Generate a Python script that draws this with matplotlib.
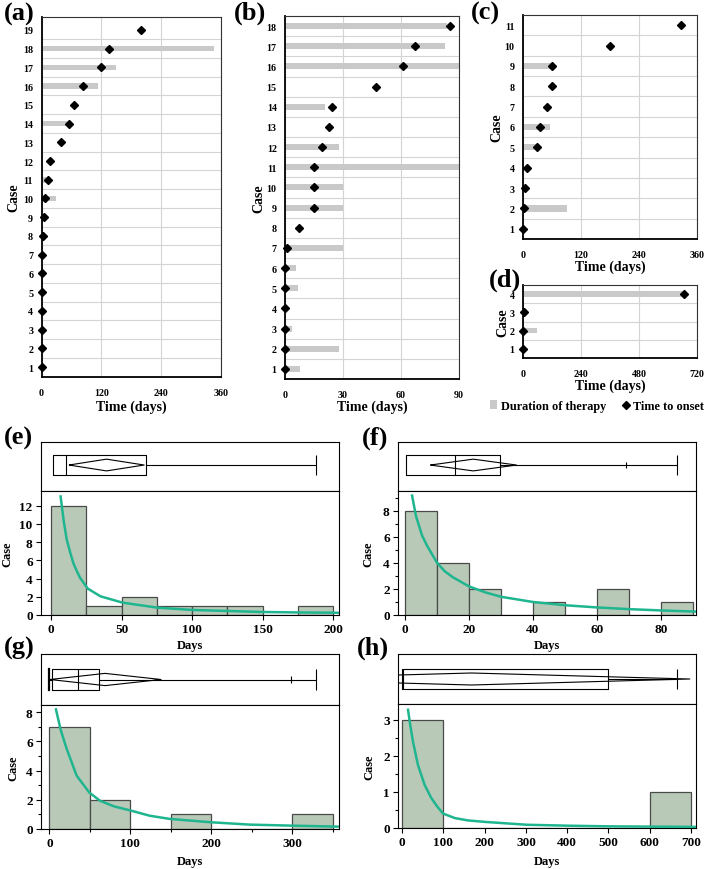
import matplotlib
matplotlib.use('Agg')
import matplotlib.pyplot as plt
import numpy as np
from matplotlib.lines import Line2D
from matplotlib.patches import Patch

plt.rcParams['font.family'] = ['Liberation Serif', 'DejaVu Serif']
plt.rcParams['font.weight'] = 'bold'

# ---------------- data ----------------
a_onset = [0, 0, 0, 0, 0, 1, 0, 4, 5, 8, 13, 17, 39.5, 56, 66, 83, 120, 135, 199]
a_dur = [0, 0, 0, 0, 0, 5, 0, 0, 0, 29, 10, 0, 0, 54, 0, 113, 149, 345, 0]
b_onset = [0, 0, 0, 0, 0, 0, 1.2, 7.2, 15.2, 15.2, 15.2, 19.3, 23, 24.3, 47, 61, 67.2, 85.2]
b_dur = [7.8, 28, 3.6, 0, 6.7, 5.7, 30, 0, 30, 30, 90, 28, 0, 20.7, 0, 90, 82.8, 84]
c_onset = [0, 1.4, 4, 9, 29, 35.2, 49.7, 60.7, 60.7, 181, 326]
c_dur = [0, 91, 0, 0, 29, 56, 0, 0, 58, 0, 0]
d_onset = [0, 0, 3, 666]
d_dur = [0, 59, 0, 662]

a_xticks = [0, 120, 240, 360]
b_xticks = [0, 30, 60, 90]
c_xticks = [0, 120, 240, 360]
d_xticks = [0, 240, 480, 720]

# box-plot summaries (days)
e_box = dict(q1=1.2, med=10.6, q3=67, wlo=None, whi=188, mean=39.3, ci_lo=12.7, ci_hi=66, mark=None)
f_box = dict(q1=0.4, med=15.6, q3=29.9, wlo=None, whi=85.1, mean=21.4, ci_lo=8.0, ci_hi=34.9, mark=69)
g_box = dict(q1=3.7, med=35.4, q3=61, wlo=0, whi=329, mean=68.8, ci_lo=0.8, ci_hi=138, mark=299)
h_box = dict(q1=0, med=3, q3=500, wlo=None, whi=667, mean=168, ci_lo=-361, ci_hi=697, mark=None)

# fitted curves
e_curve_x = [6.8, 9, 11.1, 13.5, 15.8, 18, 20.5, 26, 35, 50.8, 75.6, 100.8, 125.6, 150, 175, 200, 204]
e_curve_y = [13.0, 10.3, 8.3, 6.9, 5.7, 4.9, 4.1, 2.9, 2.05, 1.35, 0.8, 0.55, 0.44, 0.33, 0.28, 0.25, 0.24]
f_curve_x = [2.3, 3.5, 5.4, 7.0, 10.1, 12.5, 15, 20, 25, 30, 40, 50, 60, 70, 80, 91]
f_curve_y = [9.15, 7.6, 6.1, 5.3, 4.0, 3.35, 2.9, 2.2, 1.75, 1.4, 1.0, 0.75, 0.58, 0.45, 0.35, 0.26]
g_curve_x = [8.2, 14, 21.4, 33.7, 49.4, 62.5, 80, 99.6, 124, 149, 200, 248, 300, 358]
g_curve_y = [8.2, 6.8, 5.5, 3.66, 2.5, 1.94, 1.55, 1.28, 0.91, 0.69, 0.46, 0.3, 0.23, 0.16]
h_curve_x = [14.6, 20, 26.7, 38.8, 55, 71, 85, 99.5, 128, 160, 200, 302, 403, 500, 712]
h_curve_y = [3.28, 2.85, 2.39, 1.74, 1.19, 0.83, 0.6, 0.40, 0.275, 0.21, 0.17, 0.09, 0.064, 0.046, 0.03]

# ---------------- figure ----------------
W, H = 708, 870
fig = plt.figure(figsize=(W / 100, H / 100), dpi=100)


def px_axes(l, t, r, b):
    return fig.add_axes([l / W, 1 - b / H, (r - l) / W, (b - t) / H])


BAR_GRAY = '#c9c9c9'
GRID = '#d4d4d4'


def gantt(box, onset, dur, xticks, xlab_px, ylab_px, ylim_pad=(0.5, 0.5)):
    l, t, r, b = box
    ax = px_axes(l, t, r, b)
    n = len(onset)
    y = np.arange(1, n + 1)
    ax.barh(y, dur, height=0.3, color=BAR_GRAY, zorder=2)
    ax.plot(onset, y, 'D', color='black', markersize=3.9, zorder=4, clip_on=False)
    ax.set_xlim(xticks[0], xticks[-1])
    ax.set_ylim(1 - ylim_pad[0], n + ylim_pad[1])
    ax.set_xticks(xticks)
    ax.set_yticks(y)
    ax.set_yticks(np.arange(1.5, n, 1), minor=True)
    ax.grid(True, axis='x', color=GRID, lw=0.8, zorder=0)
    ax.grid(True, axis='y', which='minor', color=GRID, lw=0.8, zorder=0)
    ax.tick_params(axis='both', which='both', length=0, labelsize=7.2)
    ax.tick_params(axis='x', pad=8)
    ax.tick_params(axis='y', pad=6)
    for s in ['top', 'right']:
        ax.spines[s].set_color('#333333')
        ax.spines[s].set_linewidth(0.8)
    for s in ['left', 'bottom']:
        ax.spines[s].set_color('black')
        ax.spines[s].set_linewidth(1.3)
    ax.set_xlabel('Time (days)', fontsize=10, fontweight='bold')
    ax.set_ylabel('Case', fontsize=10, fontweight='bold')
    ax.xaxis.set_label_coords(0.5, -(xlab_px - 7 - b) / (b - t))
    ax.yaxis.set_label_coords(-(l - ylab_px - 7) / (r - l), 0.5)
    return ax


gantt((41.5, 18, 221, 378), a_onset, a_dur, a_xticks, 408, 13, (0.53, 0.69))
gantt((285, 17, 459, 380), b_onset, b_dur, b_xticks, 408, 258)
gantt((523, 16, 697, 240), c_onset, c_dur, c_xticks, 268, 496)
gantt((523, 286, 697, 359), d_onset, d_dur, d_xticks, 387, 502)

handles = [Patch(facecolor=BAR_GRAY, edgecolor='none'),
           Line2D([], [], marker='D', color='black', linestyle='none', markersize=3.9)]
fig.legend(handles, ['Duration of therapy', 'Time to onset'], loc='center',
           bbox_to_anchor=(597 / W, 1 - 407 / H), ncol=2, frameon=False,
           handlelength=0.6, handletextpad=0.3, columnspacing=1.3,
           prop={'weight': 'bold', 'size': 8.8})

HIST_FACE = '#b8c9b8'
HIST_EDGE = '#4a4a4a'
CURVE = '#1fb58f'


def draw_box(ax, st, yc, bh, dh):
    kw = dict(color='black', lw=0.8, solid_capstyle='butt')
    q1, med, q3 = st['q1'], st['med'], st['q3']
    ax.plot([q1, q3, q3, q1, q1], [yc - bh, yc - bh, yc + bh, yc + bh, yc - bh], **kw)
    ax.plot([med, med], [yc - bh, yc + bh], **kw)
    ax.plot([q3, st['whi']], [yc, yc], **kw)
    ax.plot([st['whi'], st['whi']], [yc - bh, yc + bh], **kw)
    if st['wlo'] is not None:
        ax.plot([st['wlo'], q1], [yc, yc], **kw)
        ax.plot([st['wlo'], st['wlo']], [yc - bh, yc + bh], color='black', lw=1.6)
    ax.plot([st['ci_lo'], st['mean'], st['ci_hi'], st['mean'], st['ci_lo']],
            [yc, yc + dh, yc, yc - dh, yc], **kw)
    if st['mark'] is not None:
        ax.plot([st['mark'], st['mark']], [yc - 0.06, yc + 0.06], **kw)


def hist_panel(box_px, div_px, onset, bins, xlim, ylim, xticks, yticks, yminor, xminor,
               st, yc, cx, cy, xlab_px, ylab_px):
    l, t, r, b = box_px
    axb = px_axes(l, t, r, div_px)
    axh = px_axes(l, div_px, r, b)
    axb.set_xlim(*xlim)
    axb.set_ylim(0, 1)
    axb.set_xticks([])
    axb.set_yticks([])
    draw_box(axb, st, yc, 0.2, 0.12)
    axh.hist(onset, bins=bins, color=HIST_FACE, edgecolor=HIST_EDGE, linewidth=0.9, zorder=2)
    axh.plot(cx, cy, color=CURVE, lw=1.8, zorder=3)
    axh.set_xlim(*xlim)
    axh.set_ylim(*ylim)
    axh.set_xticks(xticks)
    axh.set_yticks(yticks)
    if yminor is not None:
        axh.set_yticks(yminor, minor=True)
    if xminor is not None:
        axh.set_xticks(xminor, minor=True)
    axh.tick_params(axis='both', which='major', length=3.5, width=0.8, labelsize=9.5,
                    direction='out', pad=2.5)
    axh.tick_params(axis='both', which='minor', length=2, width=0.8, direction='out')
    for ax in (axb, axh):
        for s in ax.spines.values():
            s.set_linewidth(0.8)
            s.set_color('black')
    axh.set_xlabel('Days', fontsize=9, fontweight='bold')
    axh.set_ylabel('Case', fontsize=9, fontweight='bold')
    axh.xaxis.set_label_coords(0.5, -(xlab_px - 6 - b) / (b - div_px))
    axh.yaxis.set_label_coords(-(l - ylab_px - 6) / (r - l), 0.5)
    return axb, axh


hist_panel((41, 443, 339, 616), 492, a_onset, np.arange(0, 201, 25), (-7.1, 204), (0, 13.6),
           [0, 50, 100, 150, 200], np.arange(0, 13, 2), None, None,
           e_box, 0.53, e_curve_x, e_curve_y, 646, 7)
hist_panel((398, 443, 696, 616), 492, b_onset, np.arange(0, 91, 10), (-2.1, 91), (0, 9.5),
           [0, 20, 40, 60, 80], [0, 2, 4, 6, 8], [1, 3, 5, 7, 9], None,
           f_box, 0.53, f_curve_x, f_curve_y, 646, 368)
hist_panel((41, 655, 339, 830), 706, c_onset, np.arange(0, 351, 50), (-10.3, 358), (0, 8.5),
           [0, 100, 200, 300], [0, 2, 4, 6, 8], [1, 3, 5, 7], [50, 150, 250, 350],
           g_box, 0.5, g_curve_x, g_curve_y, 862, 13)
hist_panel((398, 655, 696, 829), 705, d_onset, np.arange(0, 701, 100), (-9.7, 712), (0, 3.44),
           [0, 100, 200, 300, 400, 500, 600, 700], [0, 1, 2, 3], [0.5, 1.5, 2.5], None,
           h_box, 0.5, h_curve_x, h_curve_y, 862, 369)

# panel labels
labels = [('(a)', 4, 14), ('(b)', 234, 13), ('(c)', 471, 13), ('(d)', 489, 280),
          ('(e)', 4, 438), ('(f)', 362, 438), ('(g)', 4, 648), ('(h)', 357, 648)]
for txt, x, y in labels:
    fig.text(x / W, 1 - y / H, txt, fontsize=19, fontweight='bold', va='center', ha='left')

fig.savefig('out.png', dpi=100)
